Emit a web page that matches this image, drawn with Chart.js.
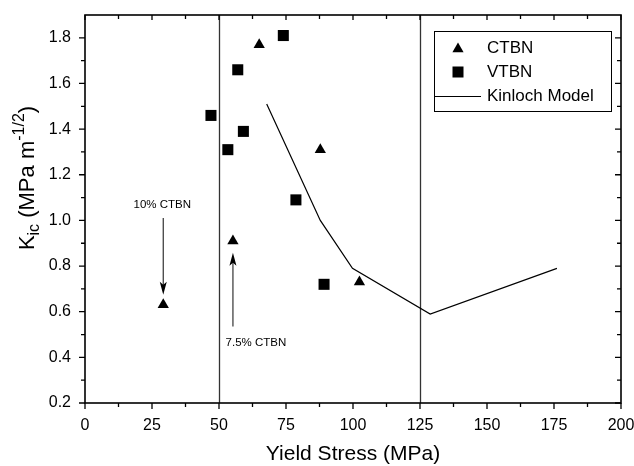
<!DOCTYPE html>
<html>
<head>
<meta charset="utf-8">
<script src="https://cdn.jsdelivr.net/npm/chart.js@4/dist/chart.umd.min.js"></script>
<style>
  html, body { margin: 0; padding: 0; background: #fff; }
  #wrap { width: 634px; height: 466px; position: relative; }
</style>
</head>
<body>
<div id="wrap"><canvas id="myChart"></canvas></div>
<script>
// data (yield stress in MPa, Kic in MPa m^-1/2)
const ctbnX = [29.2, 55.2, 65.0, 87.8, 102.4];
const ctbnY = [0.63, 0.91, 1.77, 1.31, 0.73];
const vtbnX = [47.0, 53.3, 57.0, 59.1, 74.0, 78.7, 89.2];
const vtbnY = [1.46, 1.31, 1.66, 1.39, 1.81, 1.09, 0.72];
const kinlochX = [67.8, 87.8, 99.8, 128.8, 176.1];
const kinlochY = [1.51, 1.0, 0.79, 0.59, 0.79];

const xTicks = [0, 25, 50, 75, 100, 125, 150, 175, 200];
const yTicks = [0.2, 0.4, 0.6, 0.8, 1.0, 1.2, 1.4, 1.6, 1.8];
const refLines = [50, 125];

const arrowNotes = [
  { label: "10% CTBN", x: 29.2, textY: 1.068, from: 1.011, to: 0.674, dx: -1 },
  { label: "7.5% CTBN", x: 55.2, textY: 0.464, from: 0.535, to: 0.858, dx: 23 },
];

const FONT = "'Liberation Sans', Arial, Helvetica, sans-serif";

const toPts = (xs, ys) => xs.map((x, i) => ({ x: x, y: ys[i] }));

const decorPlugin = {
  id: "decor",
  beforeDatasetsDraw(chart) {
    const { ctx, chartArea: a, scales: { x } } = chart;
    ctx.save();
    ctx.strokeStyle = "#333";
    ctx.lineWidth = 1.3;
    refLines.forEach((v) => {
      const px = Math.round(x.getPixelForValue(v)) + 0.5;
      ctx.beginPath();
      ctx.moveTo(px, a.top);
      ctx.lineTo(px, a.bottom);
      ctx.stroke();
    });
    ctx.restore();
  },
  afterDraw(chart) {
    const { ctx, chartArea: a, scales: { x, y } } = chart;
    ctx.save();
    ctx.strokeStyle = "#000";
    ctx.lineWidth = 1.6;
    ctx.strokeRect(a.left, a.top, a.right - a.left, a.bottom - a.top);

    // tick marks: outward on bottom/left, inward on top/right
    ctx.lineWidth = 1.3;
    ctx.beginPath();
    for (let i = 0; i < xTicks.length; i++) {
      const px = x.getPixelForValue(xTicks[i]);
      ctx.moveTo(px, a.bottom); ctx.lineTo(px, a.bottom + 6);
      ctx.moveTo(px, a.top); ctx.lineTo(px, a.top + 5);
      if (i < xTicks.length - 1) {
        const mx = x.getPixelForValue((xTicks[i] + xTicks[i + 1]) / 2);
        ctx.moveTo(mx, a.bottom); ctx.lineTo(mx, a.bottom + 4);
        ctx.moveTo(mx, a.top); ctx.lineTo(mx, a.top + 4);
      }
    }
    const yMinor = yTicks.map((v) => v + 0.1);
    yTicks.forEach((v) => {
      const py = y.getPixelForValue(v);
      ctx.moveTo(a.left, py); ctx.lineTo(a.left - 6, py);
      ctx.moveTo(a.right, py); ctx.lineTo(a.right - 6, py);
    });
    yMinor.forEach((v) => {
      const py = y.getPixelForValue(v);
      if (py < a.top + 1) return;
      ctx.moveTo(a.left, py); ctx.lineTo(a.left - 4, py);
      ctx.moveTo(a.right, py); ctx.lineTo(a.right - 4, py);
    });
    ctx.stroke();

    // arrows with notes
    ctx.strokeStyle = "#333";
    ctx.fillStyle = "#000";
    ctx.lineWidth = 1.2;
    arrowNotes.forEach((n) => {
      const px = x.getPixelForValue(n.x);
      const y1 = y.getPixelForValue(n.from);
      const y2 = y.getPixelForValue(n.to);
      const dir = y2 > y1 ? 1 : -1;
      ctx.beginPath();
      ctx.moveTo(px, y1);
      ctx.lineTo(px, y2 - dir * 8);
      ctx.stroke();
      ctx.beginPath();
      ctx.moveTo(px, y2);
      ctx.lineTo(px - 3.5, y2 - dir * 13);
      ctx.lineTo(px, y2 - dir * 10);
      ctx.lineTo(px + 3.5, y2 - dir * 13);
      ctx.closePath();
      ctx.fill();
      ctx.font = "11.5px " + FONT;
      ctx.textAlign = "center";
      ctx.textBaseline = "middle";
      ctx.fillText(n.label, px + n.dx, y.getPixelForValue(n.textY));
    });

    // legend
    const lx = 434, ly = 31, lw = 177, lh = 80;
    ctx.fillStyle = "#fff";
    ctx.fillRect(lx, ly, lw, lh);
    ctx.strokeStyle = "#000";
    ctx.lineWidth = 1;
    ctx.strokeRect(lx + 0.5, ly + 0.5, lw, lh);
    ctx.fillStyle = "#000";
    ctx.beginPath();
    ctx.moveTo(458, 42.5); ctx.lineTo(463.6, 52.3); ctx.lineTo(452.4, 52.3);
    ctx.closePath();
    ctx.fill();
    ctx.fillRect(452.5, 66.5, 11, 11);
    ctx.beginPath();
    ctx.moveTo(435, 96.5); ctx.lineTo(481, 96.5);
    ctx.stroke();
    ctx.font = "17px " + FONT;
    ctx.textAlign = "left";
    ctx.textBaseline = "middle";
    ctx.fillText("CTBN", 487, 48);
    ctx.fillText("VTBN", 487, 72);
    ctx.fillText("Kinloch Model", 487, 96);

    // axis titles
    ctx.font = "21px " + FONT;
    ctx.textAlign = "center";
    ctx.textBaseline = "alphabetic";
    ctx.fillText("Yield Stress (MPa)", (a.left + a.right) / 2, 460);

    const parts = [
      { t: "K", f: 22, dy: 0 },
      { t: "ic", f: 16, dy: 5 },
      { t: " (MPa m", f: 22, dy: 0 },
      { t: "-1/2", f: 16, dy: -10 },
      { t: ")", f: 22, dy: 0 },
    ];
    let total = 0;
    parts.forEach((p) => {
      ctx.font = p.f + "px " + FONT;
      p.w = ctx.measureText(p.t).width;
      total += p.w;
    });
    ctx.translate(34, 178);
    ctx.rotate(-Math.PI / 2);
    ctx.textAlign = "left";
    let cx = -total / 2;
    parts.forEach((p) => {
      ctx.font = p.f + "px " + FONT;
      ctx.fillText(p.t, cx, p.dy);
      cx += p.w;
    });
    ctx.restore();
  },
};

const chartConfiguration = {
  type: "scatter",
  data: {
    datasets: [
      {
        label: "CTBN",
        data: toPts(ctbnX, ctbnY),
        pointStyle: "triangle",
        pointRadius: 6.5,
        backgroundColor: "#000",
        borderColor: "#000",
        borderWidth: 0,
      },
      {
        label: "VTBN",
        data: toPts(vtbnX, vtbnY),
        pointStyle: "rect",
        pointRadius: 7.8,
        backgroundColor: "#000",
        borderColor: "#000",
        borderWidth: 0,
      },
      {
        label: "Kinloch Model",
        data: toPts(kinlochX, kinlochY),
        showLine: true,
        pointRadius: 0,
        borderColor: "#000",
        borderWidth: 1.2,
        fill: false,
      },
    ],
  },
  options: {
    responsive: true,
    maintainAspectRatio: false,
    animation: false,
    layout: { padding: { left: 0, right: 13, top: 15, bottom: 0 } },
    plugins: {
      legend: { display: false },
      tooltip: { enabled: false },
    },
    scales: {
      x: {
        type: "linear",
        min: 0,
        max: 200,
        afterBuildTicks: (s) => { s.ticks = xTicks.map((v) => ({ value: v })); },
        afterFit: (s) => { s.height = 63; s.paddingLeft = 0; s.paddingRight = 0; },
        grid: { display: false },
        border: { display: false },
        ticks: {
          color: "#000",
          padding: 5,
          maxRotation: 0,
          font: { size: 16, family: FONT },
        },
      },
      y: {
        type: "linear",
        min: 0.2,
        max: 1.9,
        afterBuildTicks: (s) => { s.ticks = yTicks.map((v) => ({ value: v })); },
        afterFit: (s) => { s.width = 85; s.paddingTop = 0; s.paddingBottom = 0; },
        grid: { display: false },
        border: { display: false },
        ticks: {
          color: "#000",
          padding: 6,
          font: { size: 16, family: FONT },
          callback: (v) => Number(v).toFixed(1),
        },
      },
    },
  },
  plugins: [decorPlugin],
};

const ctx = document.getElementById("myChart").getContext("2d");
new Chart(ctx, chartConfiguration);
</script>
</body>
</html>
